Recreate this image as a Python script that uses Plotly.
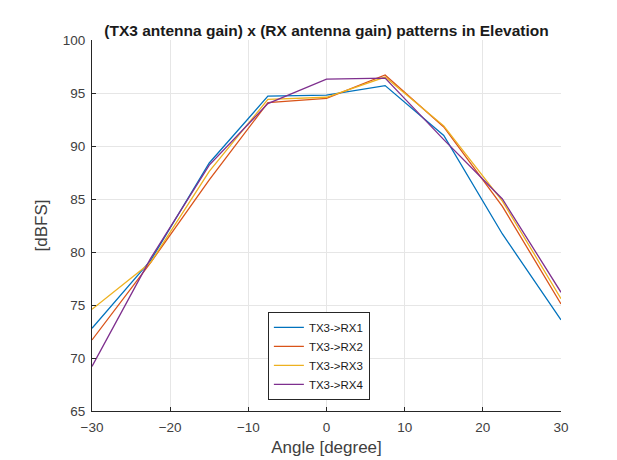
import plotly.graph_objects as go

# angles in degrees
angles = [-30, -22.5, -15, -7.5, 0, 7.5, 15, 22.5, 30]

# gain products in dBFS
rx1 = [72.8, 79.2, 88.4, 94.7, 94.8, 95.7, 91.0, 81.7, 73.6]
rx2 = [71.7, 79.0, 86.8, 94.1, 94.5, 96.7, 91.8, 84.3, 75.1]
rx3 = [74.6, 79.0, 87.6, 94.4, 94.6, 96.5, 91.9, 84.8, 75.6]
rx4 = [69.2, 79.4, 88.2, 94.0, 96.3, 96.4, 90.6, 85.0, 76.2]

names = ["TX3->RX1", "TX3->RX2", "TX3->RX3", "TX3->RX4"]
colors = ["#0072BD", "#D95319", "#EDB120", "#7E2F8E"]

FONT = "Liberation Sans, Arial"

fig = go.Figure()
for name, vals, col in zip(names, [rx1, rx2, rx3, rx4], colors):
    fig.add_trace(go.Scatter(x=angles, y=vals, mode="lines", name=name,
                             line=dict(color=col, width=1.3)))

axis_common = dict(
    showgrid=True, gridcolor="#e6e6e6", gridwidth=1,
    zeroline=False, showline=True, linecolor="#262626", linewidth=1,
    ticks="inside", ticklen=4, tickcolor="#262626",
    tickfont=dict(family=FONT, size=13.5, color="#404040"),
)

# the page body has an 8px margin, so the figure sits at (8, 8)
fig.update_layout(
    width=617, height=460,
    margin=dict(l=84, r=64, t=32, b=57),
    paper_bgcolor="white", plot_bgcolor="white",
    title=dict(text="<b>(TX3 antenna gain) x (RX antenna gain) patterns in Elevation</b>",
               x=(84 + 553) / 2 / 617, xanchor="center", y=1 - 23 / 460, yanchor="middle",
               font=dict(family=FONT, size=15.5, color="#1a1a1a")),
    xaxis=dict(range=[-30, 30], tickvals=[-30, -20, -10, 0, 10, 20, 30],
               ticklabelstandoff=4,
               title=dict(text="Angle [degree]", standoff=6,
                          font=dict(family=FONT, size=17, color="#404040")),
               **axis_common),
    yaxis=dict(range=[65, 100], tickvals=[65, 70, 75, 80, 85, 90, 95, 100],
               ticklabelstandoff=3,
               title=dict(text="[dBFS]", standoff=10,
                          font=dict(family=FONT, size=17, color="#404040")),
               **axis_common),
    legend=dict(x=0.375, y=0.03, xanchor="left", yanchor="bottom",
                bgcolor="white", bordercolor="#262626", borderwidth=1,
                font=dict(family=FONT, size=11.5, color="#1a1a1a"),
                tracegroupgap=0),
    showlegend=True,
)

fig.write_html("out.html")
